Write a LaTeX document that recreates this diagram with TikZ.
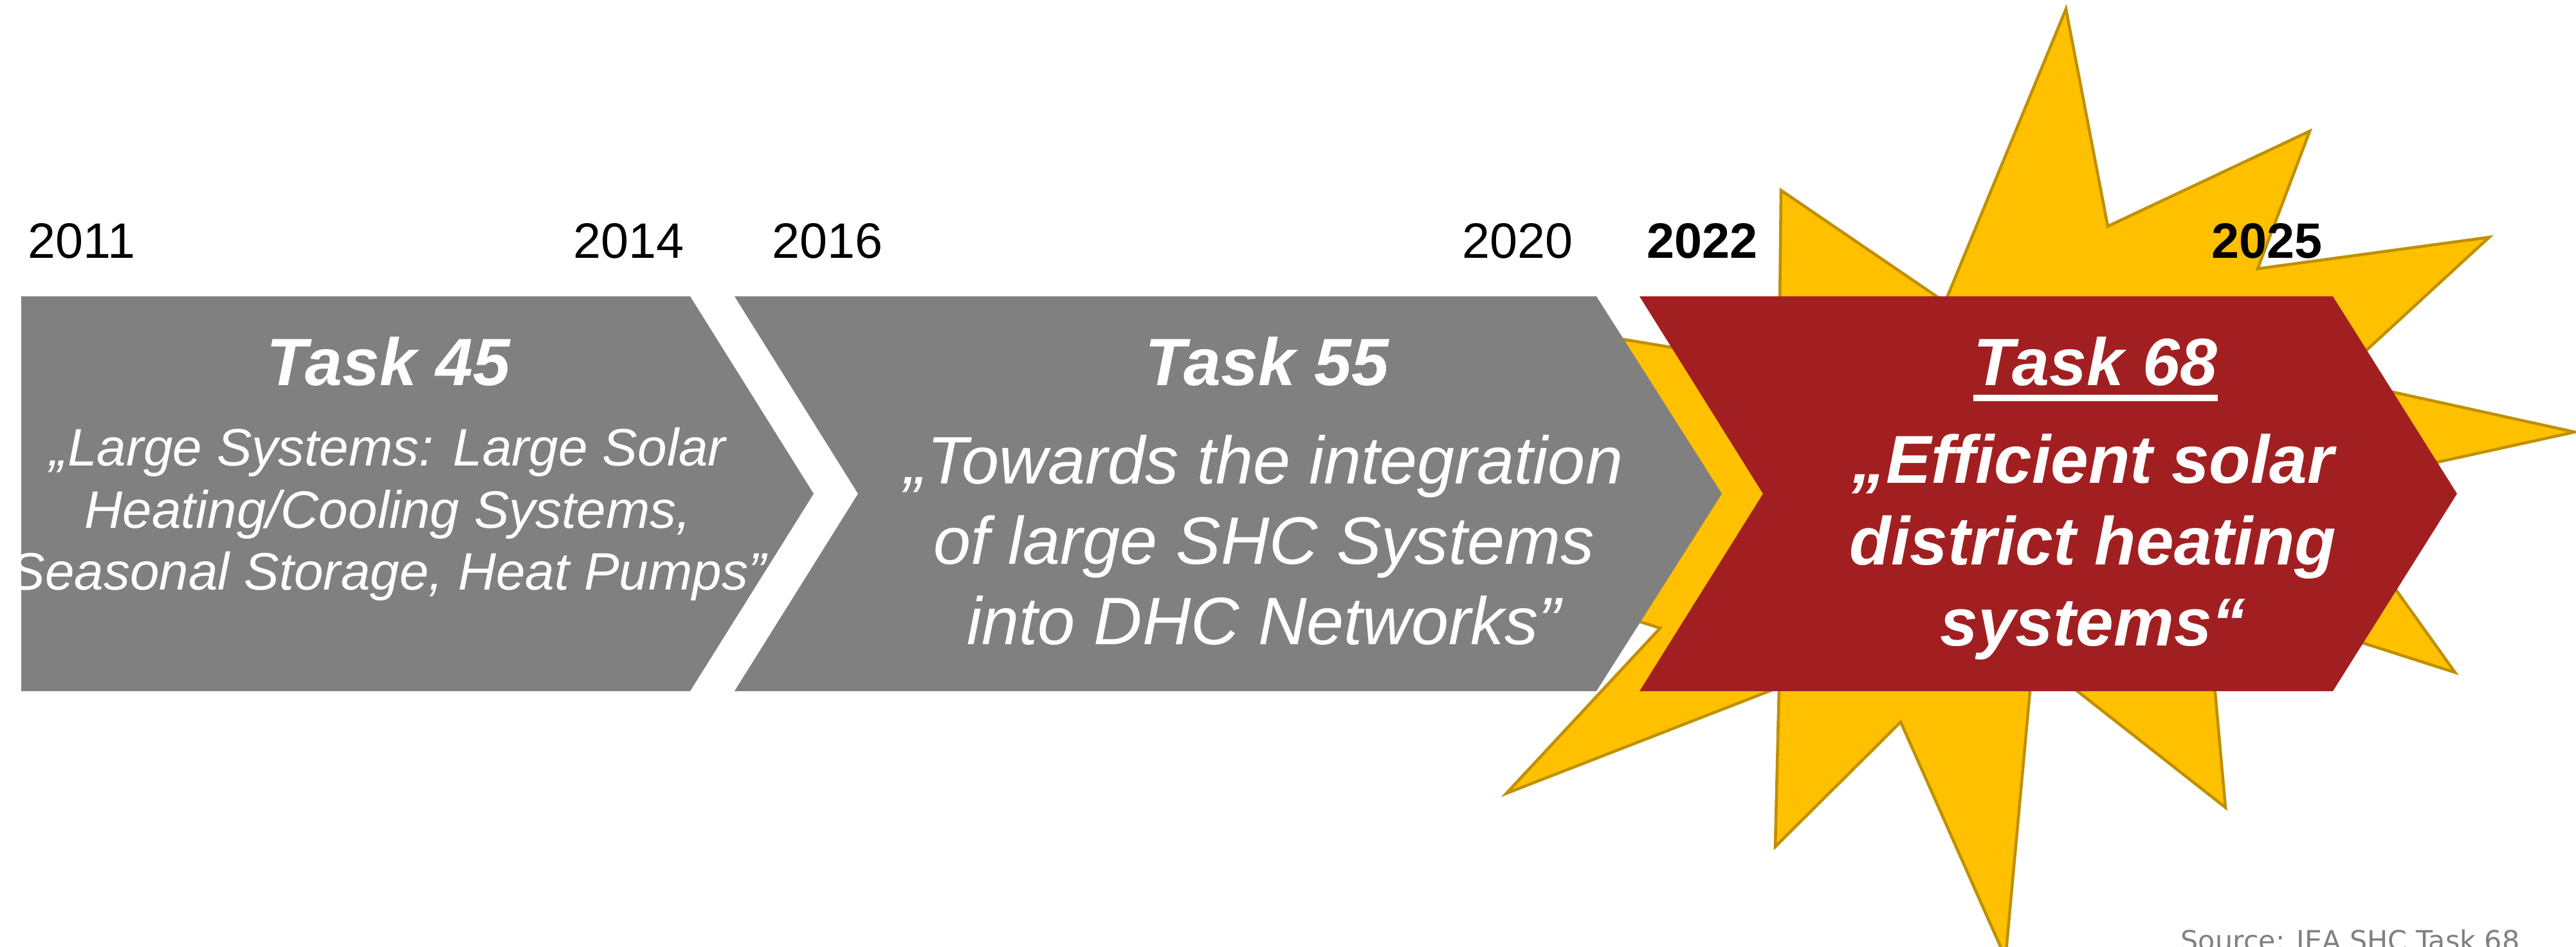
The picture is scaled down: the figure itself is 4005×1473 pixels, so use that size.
\documentclass[tikz,border=0pt]{standalone}
\usepackage{fontspec}
\setmainfont{Liberation Sans}
\newfontfamily\srcfont{DejaVu Sans}
\usetikzlibrary{positioning}
\definecolor{taskgray}{RGB}{128,128,128}
\definecolor{taskred}{RGB}{162,31,33}
\definecolor{boomfill}{RGB}{255,192,0}
\definecolor{boomline}{RGB}{191,144,0}

\begin{document}
\begin{tikzpicture}[x=0.01cm, y=-0.01cm, every node/.style={inner sep=0pt}, yr/.style={anchor=base west, font=\fontsize{22}{26}\selectfont}, yrb/.style={yr, font=\fontsize{22}{26}\bfseries\selectfont}, ttl/.style={anchor=base, text=white, font=\fontsize{29.6}{35}\bfseries\itshape\selectfont}, sub/.style={text=white, align=center}]
\useasboundingbox (0,0) rectangle (4005,1473);
% star behind task 68
\filldraw[fill=boomfill, draw=boomline, line width=1.3pt] (3212,14) -- (3277,352) -- (3591,204) -- (3510,418) -- (3870,369) -- (3630,590) -- (4003,672) -- (3611,758) -- (3817,1046) -- (3430,922) -- (3460,1256) -- (3161,1021) -- (3118,1490) -- (2955,1123) -- (2760,1317) -- (2766,1069) -- (2342,1234) -- (2581,977) -- (2450,935) -- (2440,514) -- (2766,568) -- (2769,296) -- (3024,470) -- cycle;
% chevrons
\fill[taskgray] (33,461) -- (1073,461) -- (1265,768) -- (1073,1075) -- (33,1075) -- cycle;
\fill[taskgray] (1142,461) -- (2482,461) -- (2677,768) -- (2482,1075) -- (1142,1075) -- (1334,768) -- cycle;
\fill[taskred] (2549,461) -- (3627,461) -- (3820,768) -- (3627,1075) -- (2549,1075) -- (2741,768) -- cycle;
% years
\node[yr] (y11) at (43,402) {2011};
\node[yr] (y14) at (891,402) {2014};
\node[yr] (y16) at (1200,402) {2016};
\node[yr] (y20) at (2273,402) {2020};
\node[yrb] (y22) at (2560,402) {2022};
\node[yrb] (y25) at (3438,402) {2025};
% tasks
\node[ttl] (t45) at (604,600) {Task 45};
\node[ttl] (t55) at (1970,600) {Task 55};
\node[ttl] (t68) at (3258,600) {Task 68};
\draw[white, line width=2.6pt] ([yshift=-0.19cm]t68.base west) -- ([yshift=-0.19cm]t68.base east);
\node[sub, font=\fontsize{23.3}{27.5}\itshape\selectfont] (s45) at (603,800) {„Large Systems: Large Solar\\Heating/Cooling Systems,\\Seasonal Storage, Heat Pumps”};
\node[sub, font=\fontsize{29.7}{35.6}\itshape\selectfont] (s55) at (1965,840) {„Towards the integration\\of large SHC Systems\\into DHC Networks”};
\node[sub, font=\fontsize{30}{36}\bfseries\itshape\selectfont] (s68) at (3254,851) {„Efficient solar\\district heating\\systems“};
\node[anchor=base west, text=taskgray, font=\srcfont\fontsize{12.2}{15}\selectfont] (src) at (3390,1478) {Source: IEA SHC Task 68};
\end{tikzpicture}
\end{document}
